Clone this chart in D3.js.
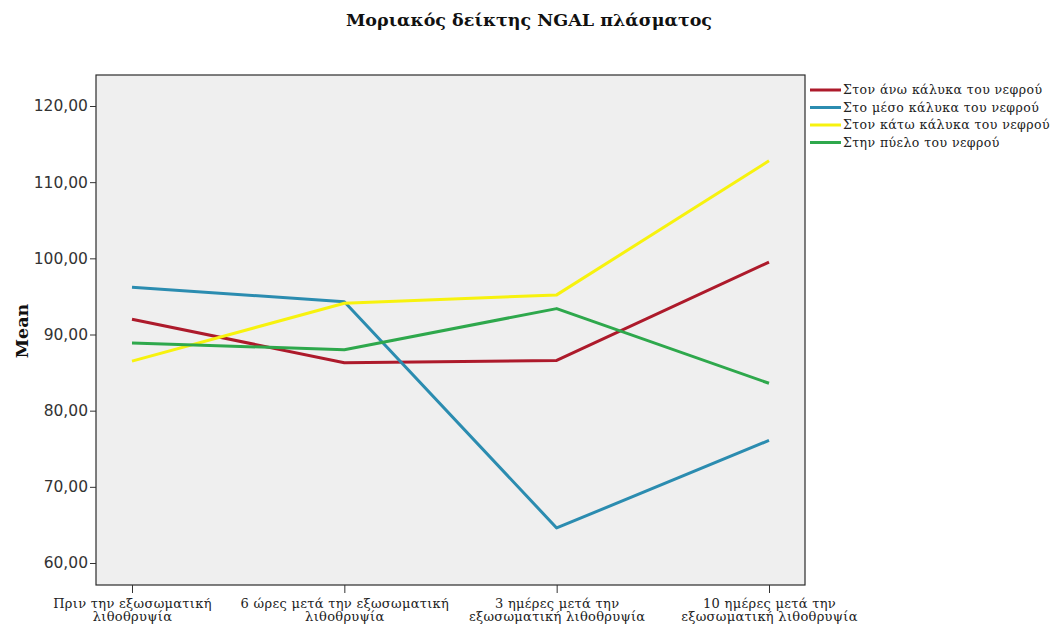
<!DOCTYPE html>
<html>
<head>
<meta charset="utf-8">
<script src="https://cdn.jsdelivr.net/npm/d3@7"></script>
<style>
  html, body { margin: 0; padding: 0; background: #ffffff; }
  svg { display: block; }
</style>
</head>
<body>
<svg id="chart" width="1057" height="631"></svg>
<script>
// Time points after extracorporeal lithotripsy
const categories = [
  ["Πριν την εξωσωματική", "λιθοθρυψία"],
  ["6 ώρες μετά την εξωσωματική", "λιθοθρυψία"],
  ["3 ημέρες μετά την", "εξωσωματική λιθοθρυψία"],
  ["10 ημέρες μετά την", "εξωσωματική λιθοθρυψία"]
];

// Series names (kidney region) and mean plasma NGAL molecular index
const seriesNames = [
  "Στον άνω κάλυκα του νεφρού",
  "Στο μέσο κάλυκα του νεφρού",
  "Στον κάτω κάλυκα του νεφρού",
  "Στην πύελο του νεφρού"
];
const upperCalyx  = [92.0, 86.3, 86.6, 99.5];
const middleCalyx = [96.2, 94.3, 64.6, 76.1];
const lowerCalyx  = [86.5, 94.1, 95.2, 112.8];
const renalPelvis = [88.9, 88.0, 93.4, 83.6];
const seriesValues = [upperCalyx, middleCalyx, lowerCalyx, renalPelvis];
const seriesColors = ["#ad1a2b", "#2b8cb0", "#f7f20e", "#2ea84c"];

const yTicks = [60, 70, 80, 90, 100, 110, 120];

const serif = "DejaVu Serif, Liberation Serif, serif";
const sans = "DejaVu Sans, sans-serif";

const svg = d3.select("#chart");
const plot = { left: 96, right: 805, top: 75, bottom: 585 };

svg.append("text")
  .attr("x", 529).attr("y", 26)
  .attr("text-anchor", "middle")
  .attr("font-family", serif)
  .attr("font-weight", "bold")
  .attr("font-size", 17.5)
  .attr("fill", "#111")
  .text("Μοριακός δείκτης NGAL πλάσματος");

// Plot area
svg.append("rect")
  .attr("x", plot.left).attr("y", plot.top)
  .attr("width", plot.right - plot.left)
  .attr("height", plot.bottom - plot.top)
  .attr("fill", "#efefef")
  .attr("stroke", "#2b2b2b")
  .attr("stroke-width", 1.2);

const x = d3.scalePoint()
  .domain(d3.range(categories.length))
  .range([plot.left + 36, plot.right - 36]);

const y = d3.scaleLinear()
  .domain([60, 120])
  .range([563, 106]);

// Y axis
const yAxis = d3.axisLeft(y)
  .tickValues(yTicks)
  .tickSize(6)
  .tickFormat(d => d3.format(".2f")(d).replace(".", ","));
const yg = svg.append("g")
  .attr("transform", `translate(${plot.left},0)`)
  .call(yAxis);
yg.select(".domain").remove();
yg.selectAll(".tick line").attr("stroke", "#333");
yg.selectAll(".tick text")
  .attr("font-family", sans)
  .attr("font-size", 15.5)
  .attr("fill", "#333")
  .attr("x", -8);

// X axis
const xAxis = d3.axisBottom(x).tickSize(8).tickFormat("");
const xg = svg.append("g")
  .attr("transform", `translate(0,${plot.bottom})`)
  .call(xAxis);
xg.select(".domain").remove();
xg.selectAll(".tick line").attr("stroke", "#333");
xg.selectAll(".tick").each(function(d) {
  const t = d3.select(this).append("text")
    .attr("text-anchor", "middle")
    .attr("font-family", serif)
    .attr("font-size", 13)
    .attr("letter-spacing", 0.3)
    .attr("fill", "#222");
  categories[d].forEach((line, i) => {
    t.append("tspan").attr("x", 0).attr("y", 23 + i * 13).text(line);
  });
});

// Y axis title
svg.append("text")
  .attr("transform", "translate(28,331) rotate(-90)")
  .attr("text-anchor", "middle")
  .attr("font-family", serif)
  .attr("font-weight", "bold")
  .attr("font-size", 17.5)
  .attr("fill", "#111")
  .text("Mean");

// Lines
const line = d3.line()
  .x((d, i) => x(i))
  .y(d => y(d));

svg.append("g").selectAll("path")
  .data(seriesValues)
  .join("path")
  .attr("d", d => line(d))
  .attr("fill", "none")
  .attr("stroke", (d, i) => seriesColors[i])
  .attr("stroke-width", 3)
  .attr("stroke-linejoin", "round");

// Legend: letters are spaced out so the longest entry spans the right margin
const legend = svg.append("g").attr("transform", "translate(810,90)");
const legendTexts = [];
seriesNames.forEach((name, i) => {
  const row = legend.append("g").attr("transform", `translate(0,${i * 17.5})`);
  row.append("line")
    .attr("x1", 0).attr("x2", 31).attr("y1", 0).attr("y2", 0)
    .attr("stroke", seriesColors[i]).attr("stroke-width", 3);
  legendTexts.push(row.append("text")
    .attr("x", 33).attr("y", 4)
    .attr("font-family", serif)
    .attr("font-size", 12.5)
    .attr("fill", "#222")
    .text(name));
});
const longest = d3.max(legendTexts, t => t.node().getComputedTextLength());
const longestChars = d3.max(seriesNames, s => s.length);
const spacing = Math.max(0, (207 - longest) / longestChars);
legendTexts.forEach(t => t.attr("letter-spacing", spacing));
</script>
</body>
</html>
